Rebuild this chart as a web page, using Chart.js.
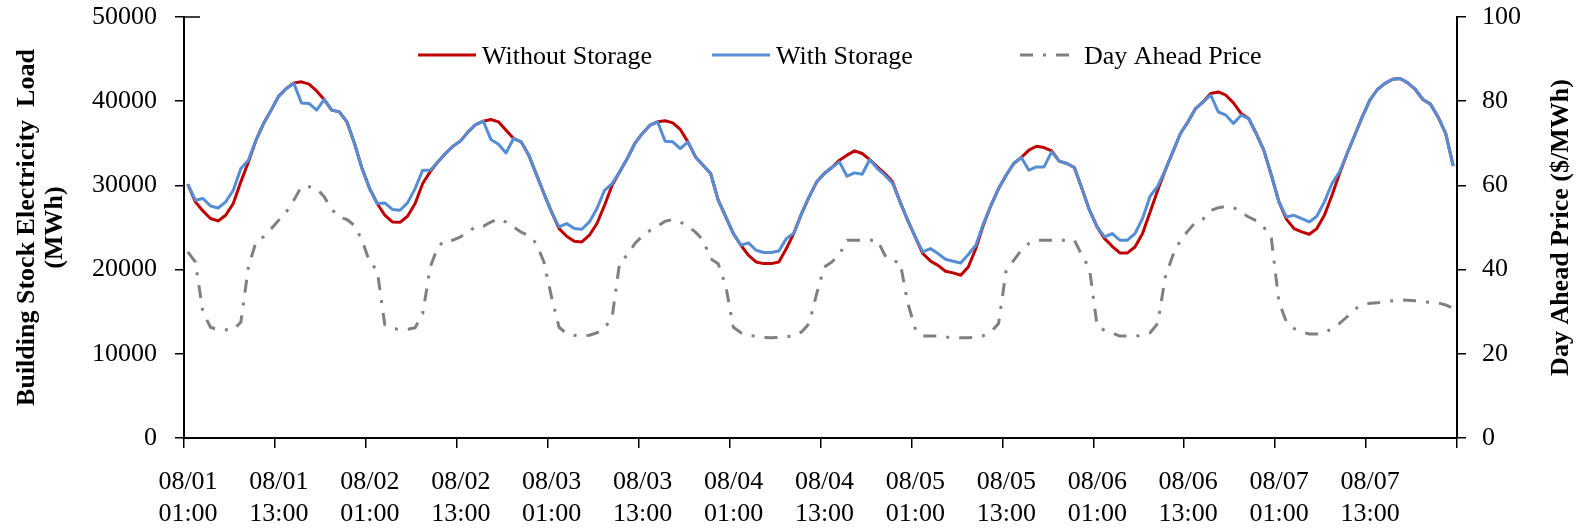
<!DOCTYPE html>
<html>
<head>
<meta charset="utf-8">
<script src="https://cdn.jsdelivr.net/npm/chart.js@4.4.1/dist/chart.umd.min.js"></script>
<style>
  html, body { margin: 0; padding: 0; background: #fff; }
</style>
</head>
<body>
<canvas id="loadChart" width="1580" height="528"></canvas>
<script>
// Hourly values, 08/01 01:00 .. 08/08 00:00
var withoutStorage = [
    30140, 28040, 26970, 26070, 25780, 26460, 27850, 30420, 32790, 35370,
    37350, 38940, 40600, 41510, 42170, 42300, 42020, 41220, 40200, 38940,
    38730, 37550, 34980, 32000, 29620, 27850, 26460, 25660, 25610, 26340,
    27850, 30230, 31630, 32790, 33790, 34650, 35290, 36360, 37230, 37620,
    37820, 37550, 36560, 35570, 35170, 33590, 31310, 29040, 26850, 24870,
    23960, 23370, 23290, 24080, 25470, 27640, 30020, 31610, 33190, 34980,
    36170, 37150, 37550, 37670, 37430, 36640, 35170, 33380, 32400, 31410,
    28240, 26250, 24280, 22890, 21700, 20910, 20710, 20710, 20910, 22500,
    24360, 26660, 28630, 30420, 31410, 32120, 33000, 33590, 34100, 33790,
    33070, 32200, 31410, 30420, 28040, 25870, 23880, 21910, 21030, 20500,
    19810, 19610, 19330, 20310, 22500, 25310, 27640, 29620, 31210, 32600,
    33310, 34190, 34650, 34490, 34100, 32880, 32600, 32120, 29620, 27050,
    25070, 23680, 22770, 21980, 21980, 22690, 24280, 26850, 29420, 31810,
    33980, 36160, 37550, 39130, 39920, 40920, 41100, 40710, 39800, 38540,
    37940, 36160, 34190, 31210, 28040, 25970, 24870, 24480, 24200, 24870,
    26460, 28830, 31410, 33790, 35960, 38140, 40120, 41390, 42110, 42610,
    42690, 42180, 41390, 40200, 39650, 38140, 36170, 32300
];

var withStorage = [
    30140, 28240, 28450, 27560, 27320, 28040, 29420, 32000, 33000, 35370,
    37350, 38940, 40600, 41510, 42110, 39800, 39730, 38940, 40200, 38940,
    38730, 37550, 34980, 32000, 29620, 27850, 27920, 27140, 27050, 27920,
    29620, 31810, 31810, 32790, 33790, 34650, 35290, 36360, 37230, 37620,
    35460, 34890, 33860, 35570, 35170, 33590, 31310, 29040, 26850, 25070,
    25470, 24870, 24790, 25660, 27260, 29420, 30220, 31610, 33190, 34980,
    36170, 37150, 37550, 35250, 35170, 34380, 35170, 33380, 32400, 31410,
    28240, 26250, 24280, 22890, 23180, 22300, 22030, 22030, 22210, 23680,
    24360, 26660, 28630, 30420, 31410, 32120, 32790, 31090, 31490, 31330,
    33070, 32000, 31210, 30260, 28040, 25870, 23880, 22100, 22500, 21910,
    21230, 20990, 20790, 21790, 22890, 25470, 27640, 29620, 31210, 32600,
    33310, 31810, 32200, 32200, 33980, 32880, 32600, 32120, 29620, 27050,
    25070, 23880, 24280, 23490, 23490, 24280, 26070, 28710, 29900, 31810,
    33980, 36160, 37550, 39130, 39920, 40710, 38730, 38340, 37350, 38340,
    37940, 36160, 34190, 31210, 28040, 26250, 26450, 26060, 25660, 26340,
    28040, 30220, 31610, 33790, 35960, 38140, 40120, 41390, 42110, 42610,
    42690, 42180, 41390, 40200, 39650, 38140, 36170, 32300
];

var dayAheadPrice = [
    44.2, 41.8, 29.9, 26.3, 25.7, 25.7, 25.7, 27.5, 40.6, 46.6,
    47.8, 49.7, 51.7, 53.7, 56.5, 59.7, 59.7, 59.3, 57.3, 54.3,
    52.5, 51.9, 50.5, 47.0, 41.8, 39.8, 26.9, 26.0, 25.8, 25.8,
    26.2, 29.5, 40.6, 45.4, 47.0, 47.0, 47.8, 48.9, 50.3, 50.3,
    51.3, 52.1, 51.3, 50.1, 48.9, 48.1, 46.2, 41.8, 33.5, 26.3,
    24.8, 24.4, 24.2, 24.4, 25.0, 26.0, 28.7, 41.8, 43.4, 46.2,
    48.0, 49.3, 50.3, 51.5, 51.9, 51.3, 50.3, 48.9, 47.0, 42.6,
    41.4, 36.1, 26.3, 25.0, 24.4, 24.2, 23.9, 23.8, 23.9, 24.1,
    24.2, 25.2, 27.2, 34.3, 40.6, 41.8, 43.6, 47.0, 47.0, 47.0,
    47.0, 47.0, 43.4, 42.0, 41.8, 32.2, 26.0, 24.2, 24.2, 24.2,
    24.0, 23.8, 23.8, 23.8, 23.9, 24.3, 25.2, 27.2, 39.8, 42.2,
    44.6, 46.2, 47.0, 47.0, 47.0, 47.0, 47.0, 47.0, 43.4, 40.2,
    26.7, 25.5, 25.0, 24.2, 24.2, 24.2, 24.4, 25.0, 27.2, 38.2,
    43.4, 47.0, 49.2, 51.3, 52.0, 54.0, 54.7, 55.0, 54.8, 53.6,
    52.5, 51.6, 50.1, 47.4, 32.3, 27.5, 26.0, 25.2, 24.7, 24.7,
    25.0, 26.0, 27.2, 28.8, 30.6, 31.6, 32.0, 32.1, 32.4, 32.6,
    32.8, 32.7, 32.6, 32.4, 32.2, 32.1, 31.6, 30.8
];

// Tick labels, one every 12 hours
var tickDates = ['08/01', '08/01', '08/02', '08/02', '08/03', '08/03', '08/04',
                 '08/04', '08/05', '08/05', '08/06', '08/06', '08/07', '08/07'];
var tickTimes = ['01:00', '13:00', '01:00', '13:00', '01:00', '13:00', '01:00',
                 '13:00', '01:00', '13:00', '01:00', '13:00', '01:00', '13:00'];

var seriesNames = ['Without Storage', 'With Storage', 'Day Ahead Price'];
var leftTitle = ['Building Stock Electricity  Load', '(MWh)'];
var rightTitle = 'Day Ahead Price ($/MWh)';

var FONT = "'Liberation Serif', 'Times New Roman', serif";
var PRICE_DASH = [13, 10, 3, 10];
Chart.defaults.font.family = FONT;
Chart.defaults.color = '#000';

// each hour sits in the middle of its slot
function toPoints(values) {
    return values.map((v, i) => ({ x: i + 0.5, y: v }));
}

// y axes: fixed width, and only a small gap kept above the plot
function fitY(width) {
    return (scale) => {
        scale.width = width;
        scale.paddingTop = 17;
        scale.paddingBottom = 0;
    };
}

// Legend inside the plot and the two axis titles
var overlayPlugin = {
    id: 'overlay',
    afterDraw(chart) {
        var ctx = chart.ctx;
        var area = chart.chartArea;
        ctx.save();

        // little cross tick at the top of the left axis
        ctx.strokeStyle = '#000';
        ctx.lineWidth = 1.5;
        ctx.beginPath();
        ctx.moveTo(area.left, area.top);
        ctx.lineTo(area.left + 16, area.top);
        ctx.stroke();

        // legend
        var items = [
            { x: 418, color: '#c00000', dash: [] },
            { x: 712, color: '#558ed5', dash: [] },
            { x: 1020, color: '#808080', dash: PRICE_DASH }
        ];
        var ly = 55;
        ctx.font = '26px ' + FONT;
        ctx.textBaseline = 'middle';
        ctx.textAlign = 'left';
        items.forEach((it, k) => {
            ctx.beginPath();
            ctx.setLineDash(it.dash);
            ctx.strokeStyle = it.color;
            ctx.lineWidth = 3;
            ctx.moveTo(it.x, ly);
            ctx.lineTo(it.x + 58, ly);
            ctx.stroke();
            ctx.setLineDash([]);
            ctx.fillStyle = '#000';
            ctx.fillText(seriesNames[k], it.x + 64, ly + 2);
        });

        // axis titles
        var midY = (area.top + area.bottom) / 2;
        ctx.font = 'bold 26px ' + FONT;
        ctx.textAlign = 'center';
        ctx.translate(27, midY);
        ctx.rotate(-Math.PI / 2);
        ctx.fillText(leftTitle[0], 0, 0);
        ctx.fillText(leftTitle[1], 0, 28);
        ctx.setTransform(1, 0, 0, 1, 0, 0);
        ctx.translate(1561, midY);
        ctx.rotate(-Math.PI / 2);
        ctx.fillText(rightTitle, 0, 0);
        ctx.restore();
    }
};

var ctx = document.getElementById('loadChart').getContext('2d');
new Chart(ctx, {
    type: 'line',
    data: {
        datasets: [{
            label: seriesNames[0],
            data: toPoints(withoutStorage),
            borderColor: '#c00000',
            borderWidth: 3,
            yAxisID: 'y',
            order: 2
        }, {
            label: seriesNames[1],
            data: toPoints(withStorage),
            borderColor: '#558ed5',
            borderWidth: 3,
            yAxisID: 'y',
            order: 1
        }, {
            label: seriesNames[2],
            data: toPoints(dayAheadPrice),
            borderColor: '#808080',
            borderWidth: 3,
            borderDash: PRICE_DASH,
            yAxisID: 'y1',
            order: 3
        }]
    },
    options: {
        responsive: false,
        animation: false,
        layout: { padding: 0 },
        elements: {
            point: { radius: 0 },
            line: { tension: 0, borderJoinStyle: 'round', fill: false }
        },
        scales: {
            x: {
                type: 'linear',
                min: 0,
                max: 168,
                afterFit: (scale) => { scale.height = 90; },
                border: { display: true, color: '#000', width: 2 },
                grid: { drawOnChartArea: false, drawTicks: true, tickLength: 10, color: '#000', lineWidth: 1.5 },
                ticks: {
                    stepSize: 12,
                    autoSkip: false,
                    maxRotation: 0,
                    padding: 19,
                    labelOffset: 4,
                    font: { size: 26, lineHeight: 1.2 },
                    callback: (value) => {
                        var k = value / 12;
                        return k < tickDates.length ? [tickDates[k], tickTimes[k]] : '';
                    }
                }
            },
            y: {
                position: 'left',
                min: 0,
                max: 50000,
                afterFit: fitY(184),
                border: { display: true, color: '#000', width: 2 },
                grid: { drawOnChartArea: false, drawTicks: true, tickLength: 9, color: '#000', lineWidth: 1.5 },
                ticks: { stepSize: 10000, padding: 18, font: { size: 26 }, callback: (v) => String(v) }
            },
            y1: {
                position: 'right',
                min: 0,
                max: 100,
                afterFit: fitY(123),
                border: { display: true, color: '#000', width: 2 },
                grid: { drawOnChartArea: false, drawTicks: true, tickLength: 9, color: '#000', lineWidth: 1.5 },
                ticks: { stepSize: 20, padding: 16, font: { size: 26 }, callback: (v) => String(v) }
            }
        },
        plugins: {
            legend: { display: false },
            tooltip: { enabled: false }
        }
    },
    plugins: [overlayPlugin]
});
</script>
</body>
</html>
